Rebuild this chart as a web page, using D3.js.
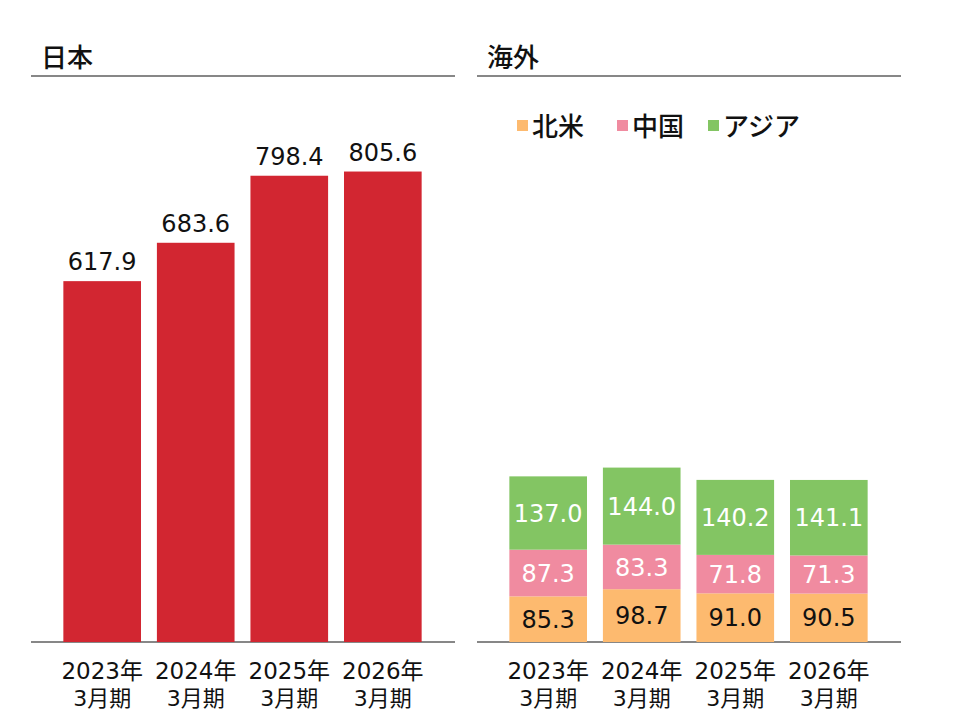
<!DOCTYPE html>
<html>
<head>
<meta charset="utf-8">
<script src="https://cdn.jsdelivr.net/npm/d3@7"></script>
<style>
  body { margin: 0; background: #fff; }
  text { font-family: "Noto Sans CJK JP", "Noto Sans", sans-serif; }
  .num { font-family: "DejaVu Sans", "Noto Sans CJK JP", sans-serif; }
</style>
</head>
<body>
<script>
// データ
var periods = ["2023年", "2024年", "2025年", "2026年"];
var periodSub = "3月期";
var japan = [617.9, 683.6, 798.4, 805.6];
var series = ["北米", "中国", "アジア"];
var northAmerica = [85.3, 98.7, 91.0, 90.5];
var china = [87.3, 83.3, 71.8, 71.3];
var asia = [137.0, 144.0, 140.2, 141.1];
var colors = ["#fdba6f", "#f08ba0", "#83c563"];
var labelColors = ["#111", "#fff", "#fff"];

var width = 962, height = 720, baseY = 642;

var svg = d3.select("body").append("svg")
    .attr("width", width)
    .attr("height", height);

// パネル見出し
function header(x0, x1, title) {
    svg.append("text")
        .attr("x", x0 + 10).attr("y", 67)
        .attr("font-size", 26).attr("font-weight", 500)
        .attr("fill", "#111")
        .text(title);
    svg.append("line")
        .attr("x1", x0).attr("x2", x1)
        .attr("y1", 76).attr("y2", 76)
        .attr("stroke", "#111").attr("stroke-width", 1.2);
    svg.append("line")
        .attr("x1", x0).attr("x2", x1)
        .attr("y1", baseY).attr("y2", baseY)
        .attr("stroke", "#111").attr("stroke-width", 1.2);
}
header(31, 455, "日本");
header(477, 901, "海外");

// x軸ラベル
function xLabels(x) {
    var g = svg.append("g");
    periods.forEach(function (p) {
        var cx = x(p) + x.bandwidth() / 2;
        g.append("text").attr("class", "num").attr("x", cx).attr("y", 679)
            .attr("text-anchor", "middle").attr("font-size", 23)
            .attr("fill", "#111").text(p);
        g.append("text").attr("class", "num").attr("x", cx).attr("y", 706)
            .attr("text-anchor", "middle").attr("font-size", 22)
            .attr("fill", "#111").text(periodSub);
    });
}

/* ------- 日本 -------*/
var xL = d3.scaleBand().domain(periods).range([54, 431]).paddingInner(0.17).paddingOuter(0.1);
var yL = d3.scaleLinear().domain([0, 900]).range([baseY, baseY - 900 * 0.584]);

svg.append("g").selectAll("rect")
    .data(japan)
    .enter().append("rect")
    .attr("x", function (d, i) { return xL(periods[i]); })
    .attr("y", function (d) { return yL(d); })
    .attr("width", xL.bandwidth())
    .attr("height", function (d) { return baseY - yL(d); })
    .attr("fill", "#d22631");

svg.append("g").selectAll("text")
    .data(japan)
    .enter().append("text")
    .attr("class", "num")
    .attr("x", function (d, i) { return xL(periods[i]) + xL.bandwidth() / 2; })
    .attr("y", function (d) { return yL(d) - 11; })
    .attr("text-anchor", "middle")
    .attr("font-size", 24)
    .attr("fill", "#111")
    .text(function (d) { return d.toFixed(1); });

xLabels(xL);

/* ------- 海外 -------*/
var xR = d3.scaleBand().domain(periods).range([500, 877]).paddingInner(0.17).paddingOuter(0.1);
var yR = d3.scaleLinear().domain([0, 900]).range([baseY, baseY - 900 * 0.535]);

var table = periods.map(function (p, i) {
    return {period: p, "北米": northAmerica[i], "中国": china[i], "アジア": asia[i]};
});
var stacked = d3.stack().keys(series)(table);

var layer = svg.append("g").selectAll("g")
    .data(stacked)
    .enter().append("g");

layer.selectAll("rect")
    .data(function (s) { return s; })
    .enter().append("rect")
    .attr("x", function (d) { return xR(d.data.period); })
    .attr("y", function (d) { return yR(d[1]); })
    .attr("width", xR.bandwidth())
    .attr("height", function (d) { return yR(d[0]) - yR(d[1]); })
    .attr("fill", function () { return colors[d3.select(this.parentNode).datum().index]; });

layer.selectAll("text")
    .data(function (s) { return s.map(function (d) { return {d: d, k: s.index, key: s.key}; }); })
    .enter().append("text")
    .attr("class", "num")
    .attr("x", function (o) { return xR(o.d.data.period) + xR.bandwidth() / 2; })
    .attr("y", function (o) { return (yR(o.d[0]) + yR(o.d[1])) / 2; })
    .attr("dy", "0.36em")
    .attr("text-anchor", "middle")
    .attr("font-size", 24)
    .attr("fill", function (o) { return labelColors[o.k]; })
    .text(function (o) { return o.d.data[o.key].toFixed(1); });

xLabels(xR);

// 凡例
var legendX = [517, 617, 708];
var legend = svg.append("g").selectAll("g")
    .data(series)
    .enter().append("g")
    .attr("transform", function (d, i) { return "translate(" + legendX[i] + ",0)"; });
legend.append("rect")
    .attr("x", 0).attr("y", 120)
    .attr("width", 11).attr("height", 11)
    .attr("fill", function (d, i) { return colors[i]; });
legend.append("text")
    .attr("x", 15).attr("y", 136)
    .attr("font-size", 26).attr("font-weight", 500)
    .attr("fill", "#111")
    .text(function (d) { return d; });
</script>
</body>
</html>
